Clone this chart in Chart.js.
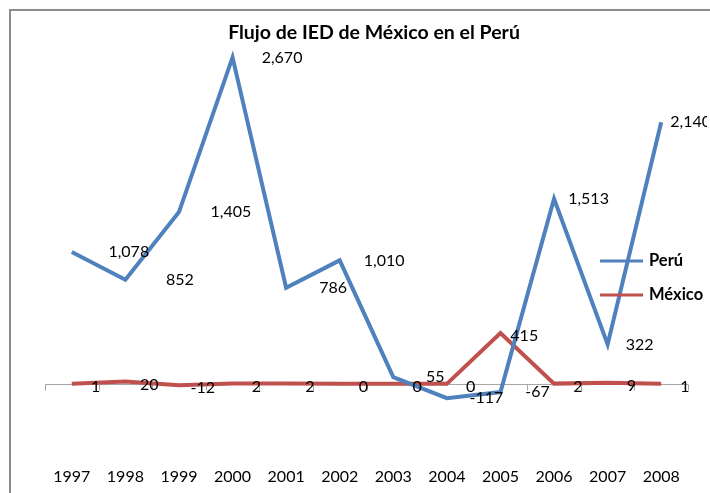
<!DOCTYPE html>
<html>
<head>
<meta charset="utf-8">
<script src="https://cdn.jsdelivr.net/npm/chart.js@4/dist/chart.umd.min.js"></script>
<style>
  html, body { margin: 0; padding: 0; background: #fff; }
  #chart { display: block; }
</style>
</head>
<body>
<canvas id="chart" width="710" height="493"></canvas>
<script>
// Chart data
const years = ['1997', '1998', '1999', '2000', '2001', '2002', '2003', '2004', '2005', '2006', '2007', '2008'];
const peru = [1078, 852, 1405, 2670, 786, 1010, 55, -117, -67, 1513, 322, 2140];
const mexico = [1, 20, -12, 2, 2, 0, 0, 0, 415, 2, 9, 1];
const seriesNames = ['Perú', 'México'];
const chartTitle = 'Flujo de IED de México en el Perú';

const FONT = 'Lato, "Open Sans", sans-serif';
const fmt = v => v.toLocaleString('en-US');

// Frame, title, zero line and legend drawn by hand
const decorPlugin = {
    id: 'decor',
    beforeDraw(chart) {
        const ctx = chart.ctx;
        ctx.save();
        ctx.strokeStyle = '#8c8c8c';
        ctx.lineWidth = 2;
        ctx.beginPath();
        ctx.moveTo(10, 493);
        ctx.lineTo(10, 10);
        ctx.lineTo(710, 10);
        ctx.stroke();
        ctx.restore();
    },
    beforeDatasetsDraw(chart) {
        const ctx = chart.ctx;
        const area = chart.chartArea;
        const y0 = Math.round(chart.scales.y.getPixelForValue(0)) + 0.5;
        const step = (area.right - area.left) / years.length;
        ctx.save();
        ctx.strokeStyle = '#a6a6a6';
        ctx.lineWidth = 1;
        ctx.beginPath();
        ctx.moveTo(area.left, y0);
        ctx.lineTo(area.right, y0);
        for (let k = 0; k <= years.length; k++) {
            const x = Math.round(area.left + k * step) + 0.5;
            ctx.moveTo(x, y0);
            ctx.lineTo(x, y0 + 6);
        }
        ctx.stroke();
        ctx.restore();
    },
    afterDatasetsDraw(chart) {
        const ctx = chart.ctx;
        ctx.save();
        ctx.beginPath();
        ctx.rect(0, 0, 707, 493);
        ctx.clip();
        ctx.fillStyle = '#000';
        ctx.font = '16px ' + FONT;
        ctx.textAlign = 'center';
        ctx.textBaseline = 'middle';

        // Perú labels sit to the right of each point
        chart.getDatasetMeta(0).data.forEach((pt, i) => {
            ctx.fillText(fmt(peru[i]), pt.x + 57 - 2.5 * i, pt.y);
        });
        // México labels sit on the category boundary
        const step = (chart.chartArea.right - chart.chartArea.left) / years.length;
        chart.getDatasetMeta(1).data.forEach((pt, i) => {
            ctx.fillText(fmt(mexico[i]), pt.x + step / 2 - 3, pt.y + 3);
        });
        ctx.restore();

        // Title
        ctx.save();
        ctx.fillStyle = '#000';
        ctx.font = 'bold 19.5px ' + FONT;
        ctx.textAlign = 'center';
        ctx.textBaseline = 'middle';
        ctx.fillText(chartTitle, 374, 33);

        // Legend
        ctx.font = 'bold 16.5px ' + FONT;
        ctx.textAlign = 'left';
        chart.data.datasets.forEach((ds, i) => {
            const y = 261 + i * 34;
            ctx.strokeStyle = ds.borderColor;
            ctx.lineWidth = 3;
            ctx.beginPath();
            ctx.moveTo(600, y);
            ctx.lineTo(643, y);
            ctx.stroke();
            ctx.fillText(ds.label, 649, y);
        });
        ctx.restore();
    }
};

new Chart(document.getElementById('chart'), {
    type: 'line',
    data: {
        labels: years,
        datasets: [
            {
                label: seriesNames[0],
                data: peru,
                borderColor: '#4f81bd',
                borderWidth: 4,
                pointRadius: 0,
                tension: 0
            },
            {
                label: seriesNames[1],
                data: mexico,
                borderColor: '#c0504d',
                borderWidth: 4,
                pointRadius: 0,
                tension: 0
            }
        ]
    },
    options: {
        responsive: false,
        animation: false,
        layout: {
            padding: { left: 45, right: 22, top: 17, bottom: 0 }
        },
        plugins: {
            legend: { display: false },
            title: { display: false },
            tooltip: { enabled: false }
        },
        scales: {
            x: {
                offset: true,
                border: { display: false },
                grid: { display: false, drawTicks: false },
                afterFit(scale) {
                    scale.height = 48;
                },
                ticks: {
                    color: '#000',
                    padding: 22,
                    font: { family: FONT, size: 16 },
                    maxRotation: 0,
                    autoSkip: false
                }
            },
            y: {
                display: false,
                min: -500,
                max: 3000
            }
        }
    },
    plugins: [decorPlugin]
});
</script>
</body>
</html>
